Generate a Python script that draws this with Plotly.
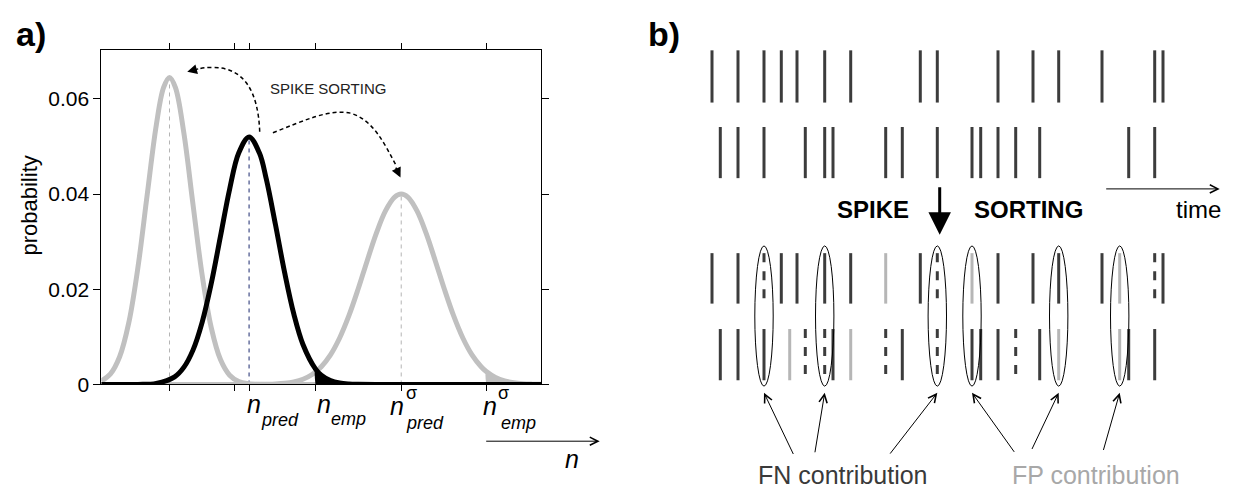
import plotly.graph_objects as go

W, H = 1248, 497
FONT = "Liberation Sans, Arial, Helvetica, sans-serif"

# ---------------- panel a data (spike-count distributions) ----------------
n_left = [20, 22.5, 25, 27.5, 30, 32.5, 35, 37, 38.6, 40.2, 42.5, 45, 47.5, 50, 52.5,
          55, 57.5, 60, 62.5, 65, 70, 80, 100, 120, 140]
p_left = [0.00072, 0.00221, 0.00582, 0.01299, 0.02465, 0.03975, 0.0545, 0.0624, 0.0645,
          0.0624, 0.0529, 0.03786, 0.02302, 0.0119, 0.00523, 0.00195, 0.00062, 0.00017,
          0.00004, 0, 0, 0, 0, 0, 0]

n_black = [20, 25, 30, 35, 40, 42.5, 45, 47.5, 50, 52.5, 55, 57.5, 60.3, 63.1, 65, 67.5,
           70, 72.5, 75, 78.4, 80, 82.5, 85, 87.5, 90, 95, 100, 120, 140]
p_black = [0, 0, 0.00002, 0.00024, 0.00161, 0.00359, 0.00722, 0.01306, 0.02126, 0.03113,
           0.04103, 0.04867, 0.052, 0.04867, 0.04316, 0.03358, 0.02352, 0.01482, 0.0084,
           0.00328, 0.00197, 0.00081, 0.0003, 0.0001, 0.00003, 0, 0, 0, 0]

n_right = [20, 40, 60, 65, 67.5, 70, 72.5, 75, 77.5, 80, 82.5, 85, 87.5, 90, 92.5, 95, 97.5,
           100, 101.8, 103.6, 106.1, 108.6, 111.1, 113.6, 116.1, 118.6, 121.1, 123.6, 125,
           127.5, 130, 132.5, 135, 137.5, 140]
p_right = [0, 0, 0, 0.00005, 0.00011, 0.00026, 0.00055, 0.0011, 0.00209, 0.00372, 0.00621,
           0.00976, 0.01439, 0.01994, 0.02596, 0.03174, 0.03647, 0.03936, 0.04, 0.03936,
           0.03647, 0.03174, 0.02596, 0.01994, 0.01439, 0.00976, 0.00621, 0.00372, 0.00271,
           0.00147, 0.00075, 0.00036, 0.00016, 0.00007, 0.00003]

n_ticks = [38.6, 56.4, 60.3, 78.4, 101.8, 125.0]
n_emp = 78.4
n_emp_sigma = 125.0
y_ticks = [0, 0.02, 0.04, 0.06]
y_ticktext = ["0", "0.02", "0.04", "0.06"]

# ---------------- panel b data (spike times, arbitrary units) ----------------
train1_true = [14, 40, 66, 83.3, 99, 126.7, 152.7, 222.3, 239.3, 300, 335, 360.7, 404, 456.7, 465]
train2_true = [22.3, 40, 66, 107.3, 126.7, 135, 187.7, 204.3, 239.3, 274, 282.7, 300, 317.7,
               341.7, 430.7, 456.7]
sorted1_hit = [14, 40, 83.3, 99, 126.7, 152.7, 222.3, 300, 335, 360.7, 404, 465]
sorted1_missed = [66, 239.3, 456.7]
sorted1_false = [187.7, 274, 421.7]
sorted2_hit = [22.3, 40, 66, 135, 204.3, 274, 282.7, 300, 341.7, 430.7, 456.7]
sorted2_missed = [107.3, 126.7, 187.7, 239.3, 317.7]
sorted2_false = [91.7, 152.7, 360.7, 421.7]
fn_events = [66, 126.7, 239.3]
fp_events = [274, 360.7, 421.7]

# ---------------- figure ----------------
fig = go.Figure()

GRAY = "#c0c0c0"
# dashed peak markers
for xs, ys, col in [(n_left, p_left, "#b4b4b4"), (n_black, p_black, "#1c2a6e"),
                    (n_right, p_right, "#b4b4b4")]:
    pk = max(ys)
    xp = xs[ys.index(pk)]
    fig.add_trace(go.Scatter(x=[xp, xp], y=[0, pk], mode="lines",
                             line=dict(color=col, width=1, dash="4px,4px"),
                             hoverinfo="skip", showlegend=False))

# tail fills
tx = [x for x in n_right if x >= n_emp_sigma]
ty = [p_right[n_right.index(x)] for x in tx]
fig.add_trace(go.Scatter(x=[tx[0]] + tx, y=[0] + ty, mode="lines", fill="tozeroy",
                         fillcolor=GRAY, line=dict(color=GRAY, width=0, shape="spline"),
                         hoverinfo="skip", showlegend=False))

fig.add_trace(go.Scatter(x=n_left, y=p_left, mode="lines",
                         line=dict(color=GRAY, width=5, shape="spline"),
                         hoverinfo="skip", showlegend=False))
fig.add_trace(go.Scatter(x=n_right, y=p_right, mode="lines",
                         line=dict(color=GRAY, width=5, shape="spline"),
                         hoverinfo="skip", showlegend=False))

bx = [x for x in n_black if x >= n_emp]
by = [p_black[n_black.index(x)] for x in bx]
fig.add_trace(go.Scatter(x=[bx[0]] + bx, y=[0] + by, mode="lines", fill="tozeroy",
                         fillcolor="black", line=dict(color="black", width=0, shape="spline"),
                         hoverinfo="skip", showlegend=False))
fig.add_trace(go.Scatter(x=n_black, y=p_black, mode="lines",
                         line=dict(color="black", width=5, shape="spline"),
                         hoverinfo="skip", showlegend=False))

# ---------------- panel b spikes ----------------
ROWS = [(43.3, 96.7), (121.7, 174.0), (250.7, 302.3), (328.3, 380.7)]
DARK = "#3c3c3c"
LIGHT = "#b6b6b6"


def spikes(times, row, color):
    y0, y1 = ROWS[row]
    xs, ys = [], []
    for t in times:
        xs += [t, t, None]
        ys += [y0, y1, None]
    fig.add_trace(go.Scatter(x=xs, y=ys, mode="lines", line=dict(color=color, width=3),
                             xaxis="x2", yaxis="y2", hoverinfo="skip", showlegend=False))


def dashed(times, row):
    y0, y1 = ROWS[row]
    for t in times:
        fig.add_trace(go.Scatter(x=[t, t], y=[y0, y1], mode="lines",
                                 line=dict(color=DARK, width=3, dash="9px,9px"),
                                 xaxis="x2", yaxis="y2", hoverinfo="skip", showlegend=False))


spikes(train1_true, 0, DARK)
spikes(train2_true, 1, DARK)
spikes(sorted1_hit, 2, DARK)
spikes(sorted1_false, 2, LIGHT)
dashed(sorted1_missed, 2)
spikes(sorted2_hit, 3, DARK)
spikes(sorted2_false, 3, LIGHT)
dashed(sorted2_missed, 3)

shapes = []
for t in fn_events + fp_events:
    shapes.append(dict(type="circle", xref="x2", yref="y2", x0=t - 9.2, x1=t + 9.2,
                       y0=243.3, y1=386.7, line=dict(color="black", width=1)))

# dashed curved arrows in panel a
shapes.append(dict(type="path", xref="x", yref="y",
                   path="M 63.2,0.0531 C 62.8,0.0615 59,0.0668 50,0.0666 Q 48,0.0666 46.6,0.0663",
                   line=dict(color="black", width=1.5, dash="4px,3px")))
shapes.append(dict(type="path", xref="x", yref="y",
                   path="M 66.8,0.0529 C 75,0.0553 82,0.0580 88,0.0570 C 94,0.0556 97,0.0510 100.4,0.0460",
                   line=dict(color="black", width=1.5, dash="4px,3px")))

ann = []


def px_x(px):
    return px / W


def px_y(py):
    return 1 - py / H


def text(px, py, s, size, color="black", xanchor="center", angle=0):
    ann.append(dict(x=px_x(px), y=px_y(py), xref="paper", yref="paper", text=s,
                    showarrow=False, xanchor=xanchor, yanchor="middle", textangle=angle,
                    font=dict(family=FONT, size=size, color=color)))


def arrow(xref, yref, x, y, ax, ay, head=5, width=1, size=1.6, color="black"):
    ann.append(dict(x=x, y=y, xref=xref, yref=yref, ax=ax, ay=ay, axref="pixel", ayref="pixel",
                    text="", showarrow=True, arrowhead=head, arrowwidth=width,
                    arrowsize=size, arrowcolor=color, standoff=0))


# panel a labels
text(6, 27, "<b>a)</b>", 34, xanchor="left")
text(22, 202, "probability", 22, angle=-90)
text(320, 82, "SPIKE SORTING", 15, color="#222222")
# x tick labels
text(246, 405, "<i>n</i>", 25)
text(272, 421, "<i>pred</i>", 18)
text(315.5, 405, "<i>n</i>", 25)
text(341, 420, "<i>emp</i>", 18)
text(389, 407, "<i>n</i>", 25)
text(403, 394, "σ", 18)
text(417, 424, "<i>pred</i>", 18)
text(481.5, 407, "<i>n</i>", 25)
text(496, 394, "σ", 18)
text(510, 424, "<i>emp</i>", 18)
text(564, 461, "<i>n</i>", 25)
arrow("paper", "paper", px_x(591.7), px_y(443), -115, 0)
# arrow heads of the dashed curves
arrow("x", "y", 43.45, 0.0657, 12.4, -3.3, head=2, width=1.5, size=1.3)
arrow("x", "y", 101.6, 0.0435, -5.4, -11.3, head=2, width=1.5, size=1.3)

# panel b labels
text(638, 27, "<b>b)</b>", 34, xanchor="left")
text(865, 206, "<b>SPIKE</b>", 24)
text(1020.5, 206, "<b>SORTING</b>", 24)
text(1190, 206, "time", 24)
arrow("paper", "paper", px_x(931.7), px_y(232), 0, -49, head=2, width=3, size=1.5)
arrow("paper", "paper", px_x(1211.7), px_y(185), -115, 0)
text(835, 478, "FN contribution", 25, color="#3a3a3a")
text(1087.5, 478, "FP contribution", 25, color="#a8a8a8")

fn_tails = [(30, 62.7), (-10, 61), (-48.3, 62.3)]
fp_tails = [(43.3, 60.6), (-27.4, 57.7), (-16.7, 58.7)]
for t, (ax, ay) in zip(fn_events + fp_events, fn_tails + fp_tails):
    arrow("x2", "y2", t, 393.5, ax, ay)

fig.update_layout(
    width=W, height=H, margin=dict(l=0, r=0, t=0, b=0), autosize=False,
    paper_bgcolor="white", plot_bgcolor="rgba(0,0,0,0)",
    font=dict(family=FONT, size=20, color="black"),
    showlegend=False,
    xaxis=dict(domain=[93.3 / W, 533.3 / W], range=[20, 140], tickvals=n_ticks,
               showticklabels=False, ticks="outside", ticklen=6, tickcolor="black",
               showline=True, linecolor="black", linewidth=1, mirror="allticks",
               showgrid=False, zeroline=False, anchor="y"),
    yaxis=dict(domain=[1 - 385 / H, 1 - 43.3 / H], range=[0, 0.0702], tickvals=y_ticks,
               ticktext=y_ticktext, ticks="outside", ticklen=7, tickcolor="black",
               tickfont=dict(size=21, family=FONT), showline=True, linecolor="black",
               linewidth=1, mirror="allticks", showgrid=False, zeroline=False, anchor="x"),
    xaxis2=dict(domain=[0, 1], range=[-690, W - 690], visible=False, anchor="y2"),
    yaxis2=dict(domain=[0, 1], range=[H, 0], visible=False, anchor="x2"),
    shapes=shapes, annotations=ann,
)

fig.write_html("out.html")
